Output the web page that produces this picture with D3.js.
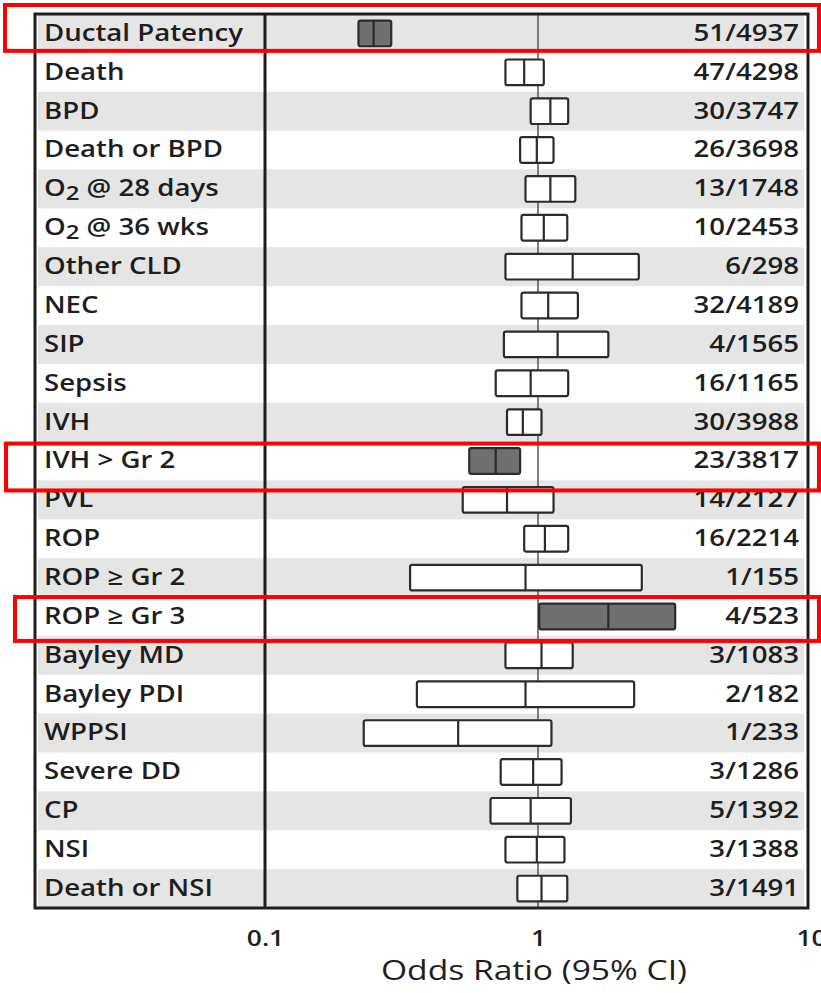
<!DOCTYPE html>
<html>
<head>
<meta charset="utf-8">
<script src="https://cdn.jsdelivr.net/npm/d3@7"></script>
<style>
  html, body { margin: 0; padding: 0; background: #fff; }
  svg { display: block; }
  text { font-family: "Open Sans", "Lato", sans-serif; fill: #1e1e1e; }
</style>
</head>
<body>
<svg id="chart" width="821" height="993"></svg>
<script>
// Outcomes, in display order
const outcomes = [
  "Ductal Patency", "Death", "BPD", "Death or BPD", "O₂ @ 28 days", "O₂ @ 36 wks",
  "Other CLD", "NEC", "SIP", "Sepsis", "IVH", "IVH > Gr 2", "PVL", "ROP",
  "ROP ≥ Gr 2", "ROP ≥ Gr 3", "Bayley MD", "Bayley PDI", "WPPSI", "Severe DD",
  "CP", "NSI", "Death or NSI"
];
// Studies / infants contributing to each outcome
const counts = [
  "51/4937", "47/4298", "30/3747", "26/3698", "13/1748", "10/2453",
  "6/298", "32/4189", "4/1565", "16/1165", "30/3988", "23/3817", "14/2127", "16/2214",
  "1/155", "4/523", "3/1083", "2/182", "1/233", "3/1286",
  "5/1392", "3/1388", "3/1491"
];
// Odds ratio with lower / upper 95% confidence limits
const orPoint = [0.25, 0.89, 1.11, 0.99, 1.11, 1.05, 1.34, 1.09, 1.18, 0.94, 0.88, 0.70, 0.77, 1.06,
  0.90, 1.81, 1.03, 0.90, 0.51, 0.96, 0.94, 0.99, 1.03];
const orLow   = [0.22, 0.76, 0.94, 0.86, 0.90, 0.87, 0.76, 0.87, 0.75, 0.70, 0.77, 0.56, 0.53, 0.89,
  0.34, 1.01, 0.76, 0.36, 0.23, 0.73, 0.67, 0.76, 0.84];
const orHigh  = [0.29, 1.05, 1.29, 1.14, 1.37, 1.28, 2.34, 1.40, 1.81, 1.29, 1.03, 0.86, 1.14, 1.29,
  2.40, 3.18, 1.34, 2.25, 1.12, 1.22, 1.32, 1.25, 1.28];
// Outcomes whose interval excludes 1
const significant = [true, false, false, false, false, false, false, false, false, false, false, true,
  false, false, false, true, false, false, false, false, false, false, false];
// Axis ticks
const tickValues = [0.1, 1, 10];
const tickLabels = ["0.1", "1", "10"];
const axisTitle = "Odds Ratio (95% CI)";

const rows = outcomes.map((name, i) => ({
  name, count: counts[i], point: orPoint[i], low: orLow[i], high: orHigh[i], sig: significant[i]
}));

const svg = d3.select("#chart");
const frame = { left: 35, right: 808, top: 14, bottom: 908, divider: 265 };
const stretch = 1.2;   // horizontal stretch applied to all type

const x = d3.scaleLog().domain([0.1, 10]).range([265, 811]);
const y = d3.scaleBand().domain(outcomes).range([frame.top, frame.bottom]).padding(0);
const bh = y.bandwidth() * 0.66;

// Alternating row shading
svg.append("g").selectAll("rect").data(rows.filter((d, i) => i % 2 === 0)).join("rect")
  .attr("x", frame.left + 3).attr("width", frame.right - frame.left - 7)
  .attr("y", d => y(d.name)).attr("height", y.bandwidth())
  .attr("fill", "#e5e5e5");

// Line of no effect
svg.append("line")
  .attr("x1", x(1)).attr("x2", x(1))
  .attr("y1", frame.top).attr("y2", frame.bottom)
  .attr("stroke", "#4a4a4a").attr("stroke-width", 1.4);

// Confidence interval boxes with point estimate divider
const boxes = svg.append("g").selectAll("g").data(rows).join("g");
boxes.append("rect")
  .attr("x", d => x(d.low)).attr("width", d => x(d.high) - x(d.low))
  .attr("y", d => y(d.name) + (y.bandwidth() - bh) / 2).attr("height", bh)
  .attr("rx", 2)
  .attr("fill", d => d.sig ? "#707070" : "#fff")
  .attr("stroke", "#2b2b2b").attr("stroke-width", 2.2);
boxes.append("line")
  .attr("x1", d => x(d.point)).attr("x2", d => x(d.point))
  .attr("y1", d => y(d.name) + (y.bandwidth() - bh) / 2)
  .attr("y2", d => y(d.name) + (y.bandwidth() + bh) / 2)
  .attr("stroke", "#2b2b2b").attr("stroke-width", 2.2);

// Outcome labels (subscript 2 drawn as a lowered digit)
const labels = svg.append("g").selectAll("text").data(rows).join("text")
  .attr("transform", d => `translate(44, ${y(d.name) + y.bandwidth() / 2}) scale(${stretch}, 1)`)
  .attr("dy", "0.32em")
  .attr("font-size", 23).attr("font-weight", 600);
labels.each(function (d) {
  const t = d3.select(this);
  const parts = d.name.split("₂");
  parts.forEach((p, i) => {
    if (i > 0) t.append("tspan").attr("dy", 4).attr("font-size", 20).text("2");
    t.append("tspan").attr("dy", i > 0 ? -4 : null).text(p);
  });
});

// Counts, right aligned
svg.append("g").selectAll("text").data(rows).join("text")
  .attr("transform", d => `translate(799, ${y(d.name) + y.bandwidth() / 2}) scale(${stretch}, 1)`)
  .attr("dy", "0.32em").attr("text-anchor", "end")
  .attr("font-size", 23).attr("font-weight", 600)
  .text(d => d.count);

// Frame and column divider
svg.append("rect")
  .attr("x", frame.left).attr("y", frame.top)
  .attr("width", frame.right - frame.left).attr("height", frame.bottom - frame.top)
  .attr("fill", "none").attr("stroke", "#1e1e1e").attr("stroke-width", 3);
svg.append("line")
  .attr("x1", frame.divider).attr("x2", frame.divider)
  .attr("y1", frame.top).attr("y2", frame.bottom)
  .attr("stroke", "#1e1e1e").attr("stroke-width", 3);

// Bottom axis: tick labels only
const axis = d3.axisBottom(x).tickValues(tickValues)
  .tickFormat((d, i) => tickLabels[i]).tickSize(0).tickPadding(0);
const ax = svg.append("g").attr("transform", `translate(0, ${frame.bottom})`).call(axis);
ax.select(".domain").remove();
ax.selectAll("text")
  .attr("y", 38).attr("dy", null)
  .attr("transform", `scale(${stretch}, 1)`)
  .attr("font-size", 22).attr("font-weight", 600)
  .attr("font-family", "'Open Sans', sans-serif").attr("fill", "#1e1e1e");

svg.append("text")
  .attr("transform", `translate(${x(1) - 4}, 980) scale(${stretch + 0.045}, 1)`)
  .attr("text-anchor", "middle")
  .attr("font-size", 27).attr("font-weight", 500)
  .text(axisTitle);

// Highlight frames around the significant outcomes
const highlights = [
  { name: "Ductal Patency", x0: 5, top: -9, bottom: -2 },
  { name: "IVH > Gr 2", x0: 6, top: 2, bottom: 10 },
  { name: "ROP ≥ Gr 3", x0: 15, top: 0, bottom: 5 }
];
svg.append("g").selectAll("rect").data(highlights).join("rect")
  .attr("x", d => d.x0).attr("width", d => 819 - d.x0)
  .attr("y", d => y(d.name) + d.top)
  .attr("height", d => y.bandwidth() - d.top + d.bottom)
  .attr("fill", "none").attr("stroke", "#f00").attr("stroke-width", 4);
</script>
</body>
</html>
